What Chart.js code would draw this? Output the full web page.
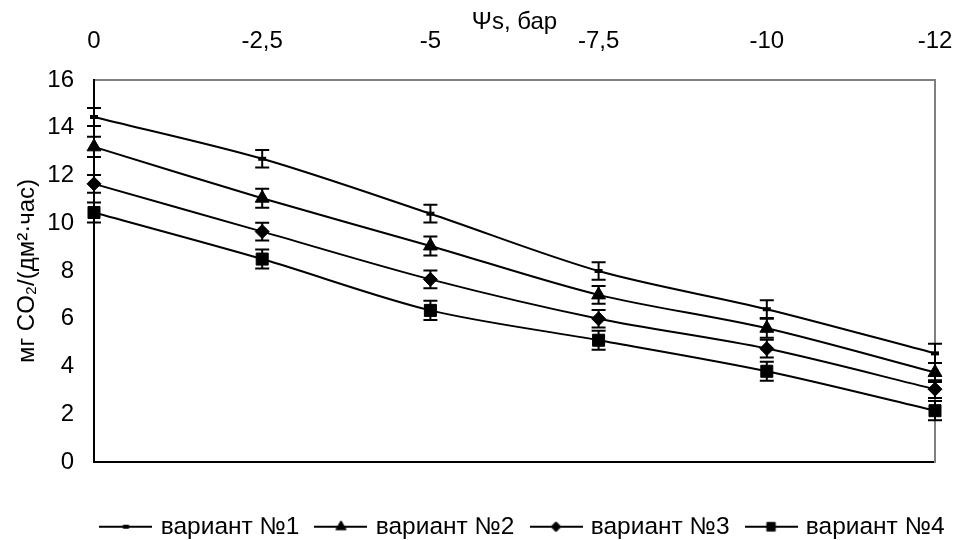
<!DOCTYPE html>
<html>
<head>
<meta charset="utf-8">
<script src="https://cdn.jsdelivr.net/npm/chart.js@4.4.0/dist/chart.umd.min.js"></script>
<style>
  html, body { margin: 0; padding: 0; background: #fff; }
</style>
</head>
<body>
<canvas id="chart" width="956" height="540"></canvas>
<script>
const pressureLabels = ['0', '-2,5', '-5', '-7,5', '-10', '-12'];
const seriesNames = ['вариант №1', 'вариант №2', 'вариант №3', 'вариант №4'];

const variant1 = [14.45, 12.7, 10.4, 8.0, 6.4, 4.55];
const variant2 = [13.2, 11.05, 9.05, 7.0, 5.6, 3.75];
const variant3 = [11.65, 9.65, 7.65, 6.0, 4.75, 3.05];
const variant4 = [10.45, 8.5, 6.35, 5.1, 3.8, 2.15];

const err1 = [0.38, 0.37, 0.37, 0.37, 0.37, 0.4];
const err2 = [0.42, 0.4, 0.4, 0.37, 0.4, 0.4];
const err3 = [0.37, 0.37, 0.37, 0.37, 0.37, 0.37];
const err4 = [0.42, 0.4, 0.4, 0.4, 0.4, 0.4];

const FONT = '"Liberation Sans", Arial, sans-serif';

// marker style per series: [pointStyle, radius in chart, radius in legend]
const markers = [['line', 4, 3], ['triangle', 8, 6], ['rectRot', 7, 5], ['rect', 8.5, 6]];

function legendSymbol(style, r) {
  const c = document.createElement('canvas');
  c.width = 53; c.height = 14;
  const ctx = c.getContext('2d');
  ctx.strokeStyle = '#000';
  ctx.fillStyle = '#000';
  ctx.lineWidth = 2;
  ctx.beginPath();
  ctx.moveTo(0, 7); ctx.lineTo(53, 7);
  ctx.stroke();
  ctx.lineWidth = style === 'line' ? 4 : 1;
  Chart.helpers.drawPoint(ctx, { pointStyle: style, radius: r, borderWidth: ctx.lineWidth, rotation: 0 }, 26.5, 7);
  return c;
}

const errorBars = {
  id: 'errorBars',
  beforeDatasetsDraw(chart) {
    const { ctx } = chart;
    const xs = chart.scales.x, ys = chart.scales.y;
    ctx.save();
    ctx.strokeStyle = '#000';
    ctx.lineWidth = 2;
    chart.data.datasets.forEach(ds => {
      ds.data.forEach((v, j) => {
        const px = xs.getPixelForValue(j);
        const top = ys.getPixelForValue(v + ds.errors[j]);
        const bot = ys.getPixelForValue(v - ds.errors[j]);
        ctx.beginPath();
        ctx.moveTo(px, top); ctx.lineTo(px, bot);
        ctx.moveTo(px - 7, top); ctx.lineTo(px + 7, top);
        ctx.moveTo(px - 7, bot); ctx.lineTo(px + 7, bot);
        ctx.stroke();
      });
    });
    ctx.restore();
  }
};

// legend sits a bit right of centre and lower, like in the original
const legendShift = {
  id: 'legendShift',
  afterLayout(chart) {
    const lg = chart.legend;
    if (!lg) return;
    lg.left += 46;
    lg.right += 46;
    lg.top += 9;
    lg.bottom += 9;
  }
};

const values = [variant1, variant2, variant3, variant4];
const errors = [err1, err2, err3, err4];

const datasets = values.map((data, i) => ({
  label: seriesNames[i],
  data: data,
  errors: errors[i],
  borderColor: '#000',
  backgroundColor: '#000',
  borderWidth: 2,
  tension: 0.3,
  pointStyle: markers[i][0],
  pointRadius: markers[i][1],
  pointBorderWidth: markers[i][0] === 'line' ? 4 : 1,
  pointBackgroundColor: '#000',
  pointBorderColor: '#000',
  clip: false
}));

new Chart(document.getElementById('chart'), {
  type: 'line',
  data: { labels: pressureLabels, datasets: datasets },
  options: {
    responsive: false,
    animation: false,
    layout: { autoPadding: false, padding: { left: 0, right: 0, top: 0, bottom: 0 } },
    plugins: {
      tooltip: { enabled: false },
      legend: {
        position: 'bottom',
        labels: {
          color: '#000',
          font: { family: FONT, size: 24.5 },
          usePointStyle: true,
          pointStyleWidth: 45,
          boxHeight: 14,
          padding: 19,
          generateLabels: () => seriesNames.map((n, i) => ({
            text: n,
            pointStyle: legendSymbol(markers[i][0], markers[i][2]),
            fillStyle: '#000',
            strokeStyle: '#000',
            lineWidth: 0,
            hidden: false,
            datasetIndex: i,
            fontColor: '#000'
          }))
        }
      }
    },
    scales: {
      x: {
        type: 'category',
        position: 'top',
        offset: false,
        grid: { display: false, drawTicks: false },
        border: { display: true, color: '#808080', width: 2 },
        ticks: { color: '#000', font: { family: FONT, size: 24 }, padding: 24, maxRotation: 0 },
        title: { display: true, text: 'Ψs, бар', color: '#000', font: { family: FONT, size: 24 }, padding: { top: 8, bottom: 0 } },
        afterFit: s => { s.height = 80; s.paddingLeft = 0; s.paddingRight = 0; }
      },
      x2: {
        type: 'category',
        position: 'bottom',
        labels: pressureLabels,
        grid: { display: false, drawTicks: false },
        border: { display: true, color: '#000', width: 2 },
        ticks: { display: false },
        afterFit: s => {
          const lh = s.chart.legend ? s.chart.legend.height : 42;
          s.height = Math.max(0, 540 - lh - 462);
          s.paddingLeft = 0; s.paddingRight = 0;
        }
      },
      y: {
        position: 'left',
        min: 0,
        max: 16,
        grid: { display: false, drawTicks: false },
        border: { display: true, color: '#000', width: 2 },
        ticks: { stepSize: 2, color: '#000', font: { family: FONT, size: 24 }, padding: 20 },
        title: { display: true, text: 'мг CO₂/(дм²·час)', color: '#000', font: { family: FONT, size: 24 }, padding: { top: 13, bottom: 0 } },
        afterFit: s => { s.width = 94; }
      },
      y2: {
        position: 'right',
        min: 0,
        max: 16,
        grid: { display: false, drawTicks: false },
        border: { display: true, color: '#808080', width: 2 },
        ticks: { display: false },
        afterFit: s => { s.width = 21; }
      }
    }
  },
  plugins: [errorBars, legendShift]
});
</script>
</body>
</html>
